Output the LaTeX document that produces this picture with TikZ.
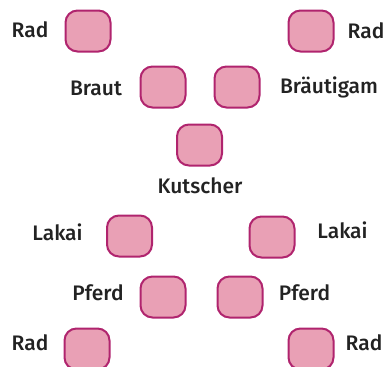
\documentclass[tikz,border=0pt]{standalone}
\usepackage{fontspec}
\setmainfont{Fira Sans}[UprightFont=* Medium]
\definecolor{rim}{HTML}{B0246E}
\definecolor{pinkfill}{HTML}{E9A0B5}
\definecolor{txt}{HTML}{222222}
\begin{document}
\begin{tikzpicture}[x=1pt,y=-1pt,
  seat/.style={draw=rim,fill=pinkfill,line width=2pt,rounded corners=12pt,minimum width=45pt,minimum height=41pt,inner sep=0pt},
  lbl/.style={text=txt,font=\fontsize{21}{24}\selectfont,inner sep=0pt}]
\useasboundingbox (0,0) rectangle (386,367);
\node[seat] (radtl) at (88,31) {};
\node[seat] (radtr) at (311,31) {};
\node[seat] (braut) at (163,87) {};
\node[seat] (braeut) at (237,87) {};
\node[seat] (kutsch) at (199.5,145) {};
\node[seat] (lakl) at (129.5,236) {};
\node[seat] (lakr) at (272,237) {};
\node[seat] (pfl) at (163,297) {};
\node[seat] (pfr) at (240,297) {};
\node[seat] (radbl) at (87,349) {};
\node[seat] (radbr) at (311,349) {};
\node[lbl] (tradtl) at (30,30) {Rad};
\node[lbl] (tradtr) at (366,31) {Rad};
\node[lbl] (tbraut) at (96,88) {Braut};
\node[lbl] (tbraeut) at (329,87) {Bräutigam};
\node[lbl] (tkutsch) at (200,186) {Kutscher};
\node[lbl] (tlakl) at (57.5,232) {Lakai};
\node[lbl] (tlakr) at (342.5,230) {Lakai};
\node[lbl] (tpfl) at (98,293) {Pferd};
\node[lbl] (tpfr) at (304.5,293) {Pferd};
\node[lbl] (tradbl) at (30,343) {Rad};
\node[lbl] (tradbr) at (364,343) {Rad};
\end{tikzpicture}
\end{document}
